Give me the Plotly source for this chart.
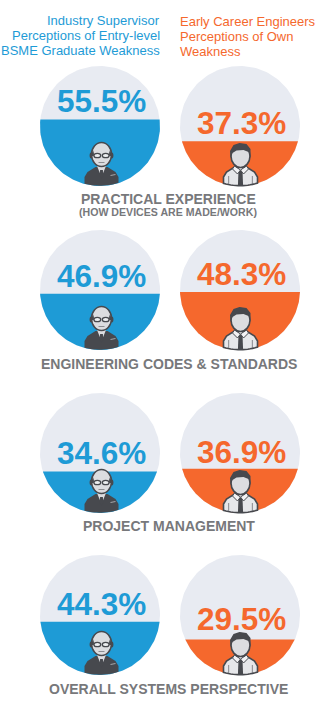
import numpy as np
import plotly.graph_objects as go

# Dados (% de fraquezas percebidas)
categorias = ['PRACTICAL EXPERIENCE', 'ENGINEERING CODES & STANDARDS',
              'PROJECT MANAGEMENT', 'OVERALL SYSTEMS PERSPECTIVE']
subtitulo = '(HOW DEVICES ARE MADE/WORK)'
supervisores = [55.5, 46.9, 34.6, 44.3]
engenheiros = [37.3, 48.3, 36.9, 29.5]
titulo_supervisores = ['Industry Supervisor', 'Perceptions of Entry-level', 'BSME Graduate Weakness']
titulo_engenheiros = ['Early Career Engineers', 'Perceptions of Own', 'Weakness']

# Layout em pixels
LARGURA, ALTURA = 321, 715
RAIO = 60
CX_ESQ, CX_DIR = 100, 240
topos = [66, 230, 393, 555]
y_categoria = [199, 364, 526, 689]
ajuste_esq = [0, 0, 0, 0]
ajuste_dir = [0, 0, 1, -3]

AZUL = '#1e9bd6'
LARANJA = '#f5682d'
CLARO = '#e8ebf2'
ESCURO = '#47494e'
PELE = '#dcdde0'
CINZA = '#77787b'
FONTE = 'Liberation Sans'


def disco(cx, cy):
    t = np.linspace(0, 2 * np.pi, 181)
    return cx + RAIO * np.cos(t), cy + RAIO * np.sin(t)


def segmento(cx, cy, valor):
    # parte de baixo do círculo, altura proporcional ao valor
    h = 2 * RAIO * valor / 100
    a = np.arcsin(np.clip((RAIO - h) / RAIO, -1, 1))
    t = np.linspace(a, np.pi - a, 121)
    return cx + RAIO * np.cos(t), cy + RAIO * np.sin(t)


def poli(pontos, cor, linha=None, lw=1.2):
    d = 'M' + ' L'.join(f'{x:.2f},{y:.2f}' for x, y in pontos) + ' Z'
    return dict(type='path', path=d, fillcolor=cor, line=dict(color=linha or cor, width=lw if linha else 0))


def elipse(x, y, rx, ry, cor, linha=None, lw=1.2):
    return dict(type='circle', x0=x - rx, x1=x + rx, y0=y - ry, y1=y + ry, fillcolor=cor,
                line=dict(color=linha or cor, width=lw if linha else 0))


def busto(ix, base, cx, cy, meia=17, topo=19):
    # ombros, com a base cortada pela borda do círculo
    xs = np.linspace(meia, -meia, 15)
    fundo = [(ix + x, cy + np.sqrt(RAIO ** 2 - (ix + x - cx) ** 2) - 0.3) for x in xs]
    return [(ix - meia, base - 9), (ix - meia + 3, base - 14), (ix - 6, base - topo), (ix + 6, base - topo),
            (ix + meia - 3, base - 14), (ix + meia, base - 9)] + fundo


def supervisor(cx, cy):
    ix, b = cx + 1.5, cy + RAIO
    return [
        poli(busto(ix, b, cx, cy), ESCURO),
        poli([(ix - 4.5, b - 20), (ix + 4.5, b - 20), (ix, b - 9)], PELE),
        poli([(ix - 1.4, b - 16), (ix + 1.4, b - 16), (ix + 1.8, b - 10), (ix, b - 7.5), (ix - 1.8, b - 10)], ESCURO),
        poli([(ix + 9, b - 11), (ix + 14, b - 12), (ix + 14, b - 11), (ix + 9, b - 10)], '#a5a7aa'),
        elipse(ix - 10.3, b - 30.5, 1.6, 3, ESCURO),
        elipse(ix + 10.3, b - 30.5, 1.6, 3, ESCURO),
        elipse(ix, b - 31.5, 10, 12, PELE, ESCURO, 1.5),
        poli([(ix - 9.5, b - 33), (ix - 8.5, b - 36), (ix - 7.6, b - 33), (ix - 7.6, b - 30), (ix - 9.5, b - 30)], ESCURO),
        poli([(ix + 9.5, b - 33), (ix + 8.5, b - 36), (ix + 7.6, b - 33), (ix + 7.6, b - 30), (ix + 9.5, b - 30)], ESCURO),
        elipse(ix - 4.2, b - 30.5, 3.4, 2.2, '#eceef0', ESCURO, 1.3),
        elipse(ix + 4.2, b - 30.5, 3.4, 2.2, '#eceef0', ESCURO, 1.3),
        poli([(ix - 3, b - 24), (ix + 3, b - 24), (ix + 3, b - 23.3), (ix - 3, b - 23.3)], '#6a6c70'),
    ]


def engenheiro(cx, cy):
    ix, b = cx + 0.5, cy + RAIO
    return [
        poli(busto(ix, b, cx, cy), '#e6e7ea', ESCURO, 1.6),
        poli([(ix - 12, b - 10), (ix - 11.4, b - 10), (ix - 11.4, b - 1), (ix - 12, b - 1)], ESCURO),
        poli([(ix + 12, b - 10), (ix + 11.4, b - 10), (ix + 11.4, b - 1), (ix + 12, b - 1)], ESCURO),
        poli([(ix - 2, b - 15), (ix + 2, b - 15), (ix + 2.6, b), (ix - 2.6, b)], ESCURO),
        poli([(ix - 6, b - 20), (ix, b - 16), (ix - 3, b - 12), (ix - 8, b - 17)], '#f2f2f4', ESCURO, 1),
        poli([(ix + 6, b - 20), (ix, b - 16), (ix + 3, b - 12), (ix + 8, b - 17)], '#f2f2f4', ESCURO, 1),
        elipse(ix, b - 30, 9.5, 11.5, PELE, ESCURO, 1.6),
        poli([(ix - 10, b - 28), (ix - 10.5, b - 35), (ix - 7, b - 41), (ix - 1, b - 43), (ix + 6, b - 42),
              (ix + 10, b - 37), (ix + 10, b - 28), (ix + 8, b - 34), (ix + 3, b - 36), (ix - 4, b - 35.5),
              (ix - 8, b - 33)], ESCURO),
    ]


fig = go.Figure()
formas = []
anotacoes = []


def texto(x, y, s, cor, tam, anchor='center', negrito=False):
    anotacoes.append(dict(x=x, y=y, xref='x', yref='y', text=f'<b>{s}</b>' if negrito else s, showarrow=False,
                          xanchor=anchor, yanchor='middle', align=anchor, borderpad=0,
                          font=dict(family=FONTE, size=tam, color=cor)))


for i, topo in enumerate(topos):
    cy = topo + RAIO
    for cx, valor, cor, ajuste in [(CX_ESQ, supervisores[i], AZUL, ajuste_esq[i]),
                                   (CX_DIR, engenheiros[i], LARANJA, ajuste_dir[i])]:
        xd, yd = disco(cx, cy)
        fig.add_trace(go.Scatter(x=xd, y=yd, mode='lines', fill='toself', fillcolor=CLARO,
                                 line=dict(width=0), hoverinfo='skip', showlegend=False))
        xs, ys = segmento(cx, cy, valor)
        fig.add_trace(go.Scatter(x=xs, y=ys, mode='lines', fill='toself', fillcolor=cor,
                                 line=dict(width=0), name=categorias[i], showlegend=False))
        linha = cy + RAIO - 2 * RAIO * valor / 100
        texto(cx + 1, linha - 18 + ajuste, f'{valor}%', cor, 31.5, negrito=True)
    formas += supervisor(CX_ESQ, cy) + engenheiro(CX_DIR, cy)
    texto(168.5, y_categoria[i], categorias[i], CINZA, 14, negrito=True)

texto(168, 212, subtitulo, CINZA, 10.6, negrito=True)

for i, s in enumerate(titulo_supervisores):
    texto(161, 20 + 15 * i, s, AZUL, 13, anchor='right')
for i, s in enumerate(titulo_engenheiros):
    texto(179, 21 + 15 * i, s, LARANJA, 13, anchor='left')

fig.update_layout(
    width=LARGURA, height=ALTURA,
    margin=dict(l=0, r=0, t=0, b=0),
    paper_bgcolor='white', plot_bgcolor='white',
    shapes=formas, annotations=anotacoes,
    xaxis=dict(range=[0, LARGURA], visible=False, fixedrange=True),
    yaxis=dict(range=[ALTURA, 0], visible=False, fixedrange=True),
)

fig.write_html('out.html', config=dict(displayModeBar=False),
               post_script="document.body.style.margin='0';")
